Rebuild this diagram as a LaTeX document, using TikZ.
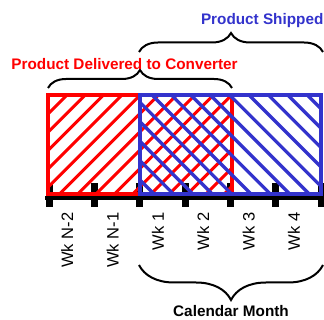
\documentclass[tikz,border=0pt]{standalone}
\usepackage{fontspec}
\setmainfont{Liberation Sans}
\usetikzlibrary{decorations.pathreplacing}
\definecolor{shipblue}{RGB}{51,51,204}
\definecolor{delred}{RGB}{255,0,0}
\begin{document}
\begin{tikzpicture}[x=1pt,y=1pt,
  tickmark/.style={fill=black},
  axisline/.style={line width=4pt, black},
  wklabel/.style={rotate=90, anchor=base east, inner sep=0pt, font=\fontsize{16.5}{18}\selectfont},
  boldlabel/.style={inner sep=0pt, anchor=base, font=\bfseries\fontsize{15.3}{17}\selectfont},
  bracestyle/.style={draw=black, line width=2pt, decorate, decoration={brace, amplitude=#1}},
  redhatch/.style={delred, line width=3pt},
  bluehatch/.style={shipblue, line width=3.3pt},
  redbox/.style={draw=delred, line width=4pt},
  bluebox/.style={draw=shipblue, line width=4pt},
]
\useasboundingbox (0,0) rectangle (324,320);

% axis
\coordinate (axL) at (45,122);
\coordinate (axR) at (324,122);
\foreach \i in {0,...,6} {
  \pgfmathsetmacro{\tx}{49+45.35*\i}
  \fill[tickmark] (\tx-3.5,113) rectangle (\tx+3.5,137);
}
\draw[axisline] (axL) -- (axR);

% red hatch
\coordinate (rSW) at (48,126);
\coordinate (rNE) at (232,225);
\begin{scope}
  \clip (rSW) rectangle (rNE);
  \foreach \k in {-2,...,16} {
    \pgfmathsetmacro{\c}{-158+18.3*\k}
    \draw[redhatch] (\c+100,100) -- (\c+250,250);
  }
\end{scope}
\draw[redbox] (rSW) rectangle (rNE);

% blue hatch
\coordinate (bSW) at (140,126);
\coordinate (bNE) at (321,225);
\begin{scope}
  \clip (bSW) rectangle (bNE);
  \foreach \k in {-12,...,5} {
    \pgfmathsetmacro{\c}{474+19.4*\k}
    \draw[bluehatch] (\c-250,250) -- (\c-100,100);
  }
\end{scope}
\draw[bluebox] (bSW) rectangle (bNE);

% braces
\coordinate (shipL) at (139,268);
\coordinate (shipR) at (323,268);
\draw[bracestyle=19pt] (shipL) -- (shipR);
\coordinate (delL) at (48,232);
\coordinate (delR) at (232,232);
\draw[bracestyle=18pt] (delL) -- (delR);
\coordinate (monL) at (139,55);
\coordinate (monR) at (323,55);
\draw[bracestyle=35pt] (monR) -- (monL);

% texts
\node[boldlabel, anchor=base east, text=shipblue] (shipped) at (323.6,295) {Product Shipped};
\node[boldlabel, text=delred] (delivered) at (124.5,250) {Product Delivered to Converter};
\node[boldlabel] (month) at (231,3) {Calendar Month};

\node[wklabel] (wkA) at (73.2,107.5) {Wk N-2};
\node[wklabel] (wkB) at (118.5,107.5) {Wk N-1};
\node[wklabel] (wkC) at (163.9,107.5) {Wk 1};
\node[wklabel] (wkD) at (209.2,107.5) {Wk 2};
\node[wklabel] (wkE) at (254.6,107.5) {Wk 3};
\node[wklabel] (wkF) at (299.9,107.5) {Wk 4};
\end{tikzpicture}
\end{document}
